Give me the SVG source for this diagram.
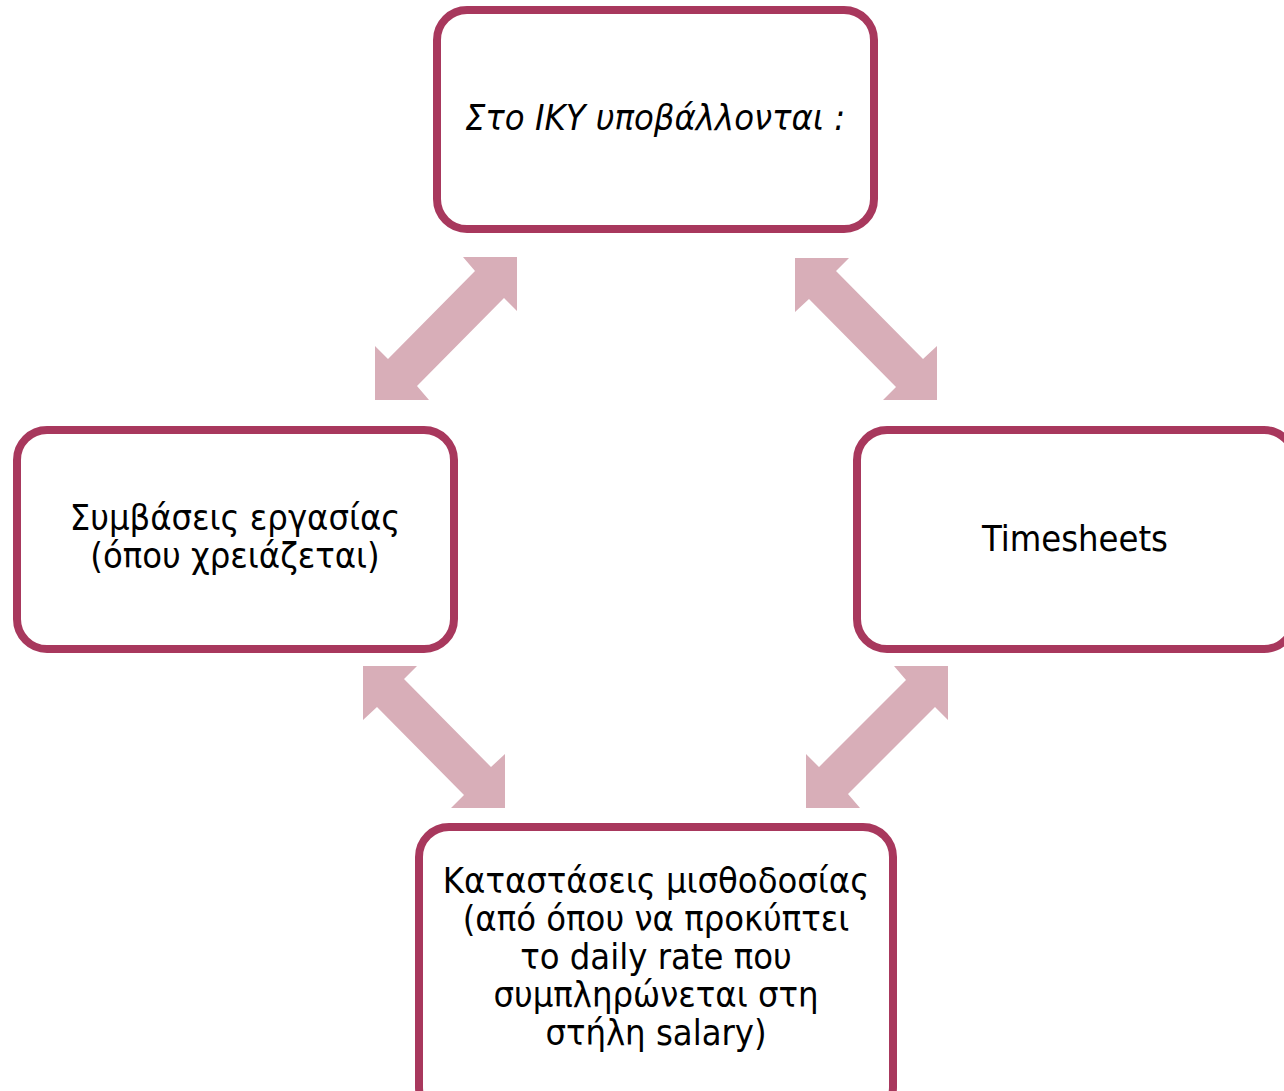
<svg xmlns="http://www.w3.org/2000/svg" width="1284" height="1091" viewBox="0 0 1284 1091">
<style>
.box{fill:#ffffff;stroke:#A8385D;stroke-width:8}
.arr{fill:#D8AEB8}
.t{font-family:"DejaVu Sans Condensed","DejaVu Sans",sans-serif;font-stretch:condensed;fill:#000;text-anchor:middle}
.big{font-size:36px}
.sm{font-size:36px}
</style>
<rect width="1284" height="1091" fill="#ffffff"/>
<g id="connectors">
<polygon class="arr" points="517,257 517,311 504,298 417,386 429,400 375,400 375,346 388,359 475,271 463,257"/>
<polygon class="arr" points="948,666 948,720 935,707 848,794 860,808 806,808 806,754 819,767 906,680 894,666"/>
<polygon class="arr" points="795,258 849,258 836,271 923,359 937,346 937,400 883,400 896,387 809,299 795,312"/>
<polygon class="arr" points="363,666 417,666 404,679 491,767 505,754 505,808 451,808 464,795 377,707 363,720"/>
</g>
<g id="node-top">
<rect class="box" x="437" y="10" width="437" height="219" rx="30"/>
<text class="t big" x="655" y="130" font-style="italic">Στο ΙΚΥ υποβάλλονται :</text>
</g>
<g id="node-left">
<rect class="box" x="17" y="430" width="437" height="219" rx="30"/>
<text class="t sm" x="235" y="530">Συμβάσεις εργασίας</text>
<text class="t sm" x="235" y="568">(όπου χρειάζεται)</text>
</g>
<g id="node-right">
<rect class="box" x="857" y="430" width="437" height="219" rx="30"/>
<text class="t big" x="1075" y="551">Timesheets</text>
</g>
<g id="node-bottom">
<rect class="box" x="419" y="827" width="474" height="290" rx="30"/>
<text class="t sm" x="656" y="893">Καταστάσεις μισθοδοσίας</text>
<text class="t sm" x="656" y="931">(από όπου να προκύπτει</text>
<text class="t sm" x="656" y="969">το daily rate που</text>
<text class="t sm" x="656" y="1007">συμπληρώνεται στη</text>
<text class="t sm" x="656" y="1045">στήλη salary)</text>
</g>
</svg>
